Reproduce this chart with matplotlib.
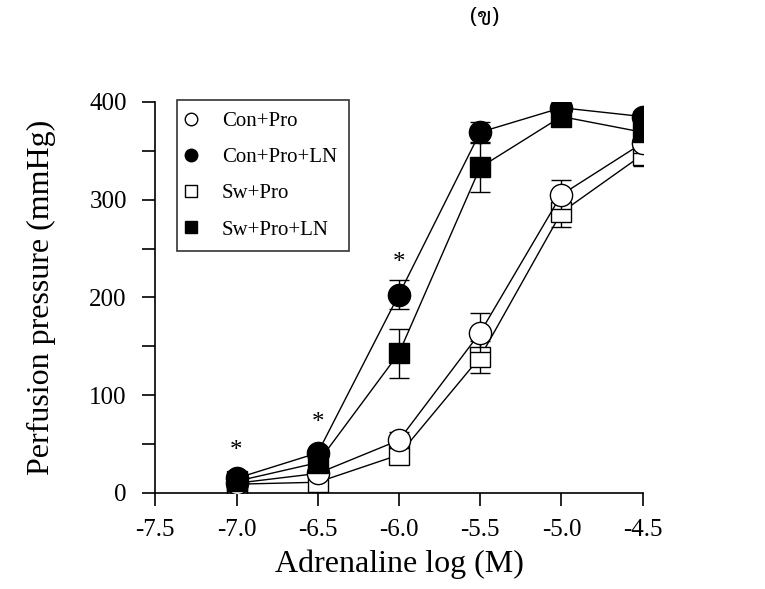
import matplotlib
matplotlib.use("Agg")
import matplotlib.pyplot as plt
from matplotlib.lines import Line2D

plt.rcParams['font.family'] = ['Liberation Serif', 'Sarabun', 'DejaVu Sans']

dose = [-7.0, -6.5, -6.0, -5.5, -5.0, -4.5]

con_pro = [10, 20, 54, 164, 305, 358]
con_pro_err = [3, 4, 8, 20, 15, 10]
con_pro_ln = [15, 41, 203, 369, 394, 385]
con_pro_ln_err = [3, 5, 15, 10, 5, 6]
sw_pro = [9, 11, 39, 139, 287, 346]
sw_pro_err = [3, 4, 7, 16, 15, 12]
sw_pro_ln = [12, 31, 143, 333, 385, 369]
sw_pro_ln_err = [3, 5, 25, 25, 6, 8]

star_x = [-7.0, -6.5, -6.0]
star_y = [32, 60, 224]

fig = plt.figure(figsize=(7.65, 5.89), dpi=100)
ax = fig.add_axes([0.203, 0.163, 0.637, 0.664])

kw = dict(color='black', lw=1.0, capsize=7, elinewidth=1.0, capthick=1.0,
          markeredgecolor='black', markeredgewidth=1.0)
ax.errorbar(dose, sw_pro, yerr=sw_pro_err, marker='s', ms=15,
            markerfacecolor='white', zorder=2, **kw)
ax.errorbar(dose, con_pro, yerr=con_pro_err, marker='o', ms=16,
            markerfacecolor='white', zorder=3, **kw)
ax.errorbar(dose, sw_pro_ln, yerr=sw_pro_ln_err, marker='s', ms=15,
            markerfacecolor='black', zorder=4, **kw)
ax.errorbar(dose, con_pro_ln, yerr=con_pro_ln_err, marker='o', ms=16,
            markerfacecolor='black', zorder=5, **kw)

for sx, sy in zip(star_x, star_y):
    ax.text(sx, sy, '*', ha='center', va='bottom', fontsize=18)

ax.set_xlim(-7.5, -4.5)
ax.set_ylim(0, 400)
ax.set_xticks([-7.5, -7.0, -6.5, -6.0, -5.5, -5.0, -4.5])
ax.set_xticklabels(['-7.5', '-7.0', '-6.5', '-6.0', '-5.5', '-5.0', '-4.5'])
ax.set_yticks([0, 100, 200, 300, 400])
ax.set_yticks([50, 150, 250, 350], minor=True)
ax.tick_params(axis='both', which='major', labelsize=18, length=9.5, width=1.2,
               direction='out')
ax.tick_params(axis='x', pad=9)
ax.tick_params(axis='y', pad=11)
ax.tick_params(axis='y', which='minor', length=9.5, width=1.2, direction='out')
ax.spines['top'].set_visible(False)
ax.spines['right'].set_visible(False)
for sp in ['left', 'bottom']:
    ax.spines[sp].set_linewidth(1.2)
for sp in ax.spines.values():
    sp.set_clip_on(False)

ax.set_xlabel('Adrenaline log (M)', fontsize=23, labelpad=6)
ax.set_ylabel('Perfusion pressure (mmHg)', fontsize=23, labelpad=24)

legend_labels = ['Con+Pro', 'Con+Pro+LN', 'Sw+Pro', 'Sw+Pro+LN']
legend_markers = ['o', 'o', 's', 's']
legend_faces = ['white', 'black', 'white', 'black']
handles = [Line2D([], [], ls='none', marker=m, ms=9, markerfacecolor=f,
                  markeredgecolor='black', markeredgewidth=1.0)
           for m, f in zip(legend_markers, legend_faces)]
leg = ax.legend(handles, legend_labels,
                loc='upper left', bbox_to_anchor=(0.045, 1.005), fontsize=15,
                borderaxespad=0, frameon=True, fancybox=False, edgecolor='black',
                handlelength=0.2, handletextpad=1.4,
                labelspacing=0.8, borderpad=0.55)
leg.get_frame().set_linewidth(1.2)

fig.text(0.634, 0.968, '(ข)', ha='center', va='center', fontsize=17,
         family=['Sarabun', 'Niramit', 'DejaVu Sans'])

fig.savefig('out.png', dpi=100)
